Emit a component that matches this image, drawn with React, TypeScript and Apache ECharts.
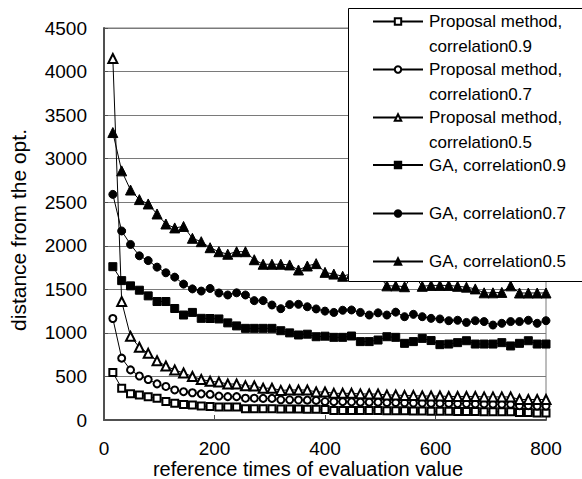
import React, { useEffect, useRef } from "react";
import * as echarts from "echarts";

const ITER = [
  16, 32, 48, 64, 80, 96, 112, 128, 144, 160,
  176, 192, 208, 224, 240, 256, 272, 288, 304, 320,
  336, 352, 368, 384, 400, 416, 432, 448, 464, 480,
  496, 512, 528, 544, 560, 576, 592, 608, 624, 640,
  656, 672, 688, 704, 720, 736, 752, 768, 784, 800,
];

const PROP_09 = [
  545, 365, 300, 287, 268, 250, 212, 192, 178, 172,
  160, 155, 150, 150, 150, 130, 130, 128, 128, 125,
  125, 125, 122, 122, 120, 110, 110, 110, 108, 108,
  108, 105, 105, 105, 102, 102, 100, 100, 100, 98,
  98, 98, 95, 95, 95, 95, 85, 85, 80, 80,
];
const PROP_07 = [
  1165, 710, 575, 505, 465, 415, 385, 345, 325, 313,
  300, 295, 275, 268, 268, 250, 250, 248, 248, 232,
  232, 230, 228, 225, 212, 210, 210, 208, 205, 205,
  205, 200, 200, 198, 195, 195, 192, 190, 190, 188,
  188, 185, 185, 182, 180, 180, 165, 165, 160, 160,
];
const PROP_05 = [
  4150, 1360, 960, 835, 765, 680, 620, 575, 540, 500,
  465, 445, 435, 413, 413, 392, 390, 365, 365, 340,
  345, 345, 344, 322, 322, 306, 306, 306, 300, 298,
  298, 287, 287, 280, 280, 275, 275, 275, 270, 270,
  270, 270, 265, 265, 265, 265, 235, 235, 235, 235,
];
const GA_09 = [
  1760, 1600, 1540, 1490, 1425, 1360, 1360, 1280, 1205, 1235,
  1167, 1165, 1160, 1115, 1080, 1052, 1052, 1052, 1052, 1025,
  1000, 976, 985, 956, 962, 949, 949, 964, 900, 900,
  918, 956, 949, 880, 900, 937, 912, 865, 872, 888,
  910, 872, 872, 872, 888, 850, 880, 910, 872, 872,
];
const GA_07 = [
  2590, 2170, 2015, 1885, 1830, 1755, 1690, 1640, 1560, 1505,
  1480, 1510, 1458, 1435, 1460, 1435, 1370, 1370, 1320, 1278,
  1325, 1328, 1300, 1275, 1250, 1235, 1260, 1263, 1235, 1205,
  1230, 1205, 1238, 1186, 1213, 1186, 1167, 1160, 1140, 1145,
  1120, 1140, 1130, 1090, 1110, 1130, 1130, 1145, 1110, 1140,
];
const GA_05 = [
  3300, 2860, 2640, 2530, 2480, 2365, 2250, 2205, 2222, 2086,
  2047, 1978, 1932, 1903, 1932, 1932, 1840, 1788, 1788, 1788,
  1780, 1722, 1768, 1795, 1695, 1675, 1650, 1680, 1665, 1690,
  1670, 1540, 1540, 1530, 1675, 1535, 1545, 1545, 1545, 1535,
  1525, 1505, 1460, 1460, 1465, 1540, 1458, 1458, 1458, 1458,
];

const SERIES_NAMES = [
  "Proposal method, correlation0.9",
  "Proposal method, correlation0.7",
  "Proposal method, correlation0.5",
  "GA, correlation0.9",
  "GA, correlation0.7",
  "GA, correlation0.5",
];
const SERIES_VALUES = [PROP_09, PROP_07, PROP_05, GA_09, GA_07, GA_05];
const SYMBOLS = ["emptyRect", "emptyCircle", "emptyTriangle", "rect", "circle", "triangle"];
const SYMBOL_SIZES = [7, 7, 9, 8, 8, 10];

const Y_MAX = 4500;
const Y_STEP = 500;
const X_MAX = 800;
const X_STEP = 200;

const FONT = "'Liberation Sans', Arial, sans-serif";

export default function App() {
  const ref = useRef<HTMLDivElement>(null);

  useEffect(() => {
    if (!ref.current) return;
    const chart = echarts.init(ref.current, null, { renderer: "svg" });

    const series = SERIES_NAMES.map((name, k) => ({
      name,
      type: "line",
      data: ITER.map((x, i) => [x, SERIES_VALUES[k][i]]),
      symbol: SYMBOLS[k],
      symbolSize: SYMBOL_SIZES[k],
      showAllSymbol: true,
      lineStyle: { color: "#000", width: 1 },
      itemStyle: { color: "#000", borderColor: "#000", borderWidth: 1 },
      emphasis: { disabled: true },
      z: 2,
      zlevel: 0,
    }));

    // legend marker centers (px) for each entry
    const markerY = [21.5, 69.5, 117.5, 165, 213.5, 261.5];
    const LH = 25;
    const legends = SERIES_NAMES.map((name, k) => {
      const isProp = k < 3;
      return {
        data: [name],
        orient: "vertical",
        left: 372,
        top: isProp ? markerY[k] - 1.5 * LH : markerY[k] - 0.5 * LH,
        padding: 0,
        itemWidth: 50,
        itemHeight: 8,
        itemGap: 0,
        selectedMode: false,
        zlevel: 2,
        z: 20,
        formatter: (n: string) => (isProp ? "\n" + n.replace(", ", ",\n") : n),
        textStyle: {
          fontFamily: FONT,
          fontSize: 17,
          lineHeight: LH,
          color: "#000",
          padding: [0, 0, 0, 1],
        },
      };
    });

    chart.setOption({
      animation: false,
      backgroundColor: "#fff",
      grid: {
        left: 104,
        top: 28,
        width: 442,
        height: 392,
        show: true,
        borderColor: "#7a7a7a",
        borderWidth: 1,
        backgroundColor: "transparent",
      },
      xAxis: {
        type: "value",
        min: 0,
        max: X_MAX,
        interval: X_STEP,
        axisLine: { show: true, onZero: false, lineStyle: { color: "#505050", width: 2 } },
        axisTick: { show: true, inside: true, length: 5, lineStyle: { color: "#505050", width: 1 } },
        splitLine: { show: false },
        axisLabel: { fontFamily: FONT, fontSize: 19, color: "#000", margin: 19 },
      },
      yAxis: {
        type: "value",
        min: 0,
        max: Y_MAX,
        interval: Y_STEP,
        axisLine: { show: true, lineStyle: { color: "#505050", width: 2 } },
        axisTick: { show: true, inside: true, length: 4, lineStyle: { color: "#505050", width: 1 } },
        splitLine: { show: true, lineStyle: { color: "#7a7a7a", width: 1 } },
        axisLabel: {
          fontFamily: FONT,
          fontSize: 19,
          color: "#000",
          margin: 17,
          formatter: (v: number) => String(v),
        },
      },
      legend: legends,
      graphic: {
        elements: [
          {
            type: "rect",
            zlevel: 1,
            z: 10,
            shape: { x: 348.5, y: 8.5, width: 250, height: 273 },
            style: { fill: "#ffffff", stroke: "#000", lineWidth: 1 },
          },
          {
            type: "text",
            z: 10,
            x: 308,
            y: 469,
            style: {
              text: "reference times of evaluation value",
              fontFamily: FONT,
              fontSize: 20,
              fill: "#000",
              align: "center",
              verticalAlign: "middle",
            },
          },
          {
            type: "text",
            z: 10,
            x: 18,
            y: 230,
            rotation: Math.PI / 2,
            style: {
              text: "distance from the opt.",
              fontFamily: FONT,
              fontSize: 21,
              fill: "#000",
              align: "center",
              verticalAlign: "middle",
            },
          },
        ],
      },
      series,
    });

    return () => chart.dispose();
  }, []);

  return <div ref={ref} style={{ width: 582, height: 479, position: "absolute", left: 0, top: 0 }} />;
}
